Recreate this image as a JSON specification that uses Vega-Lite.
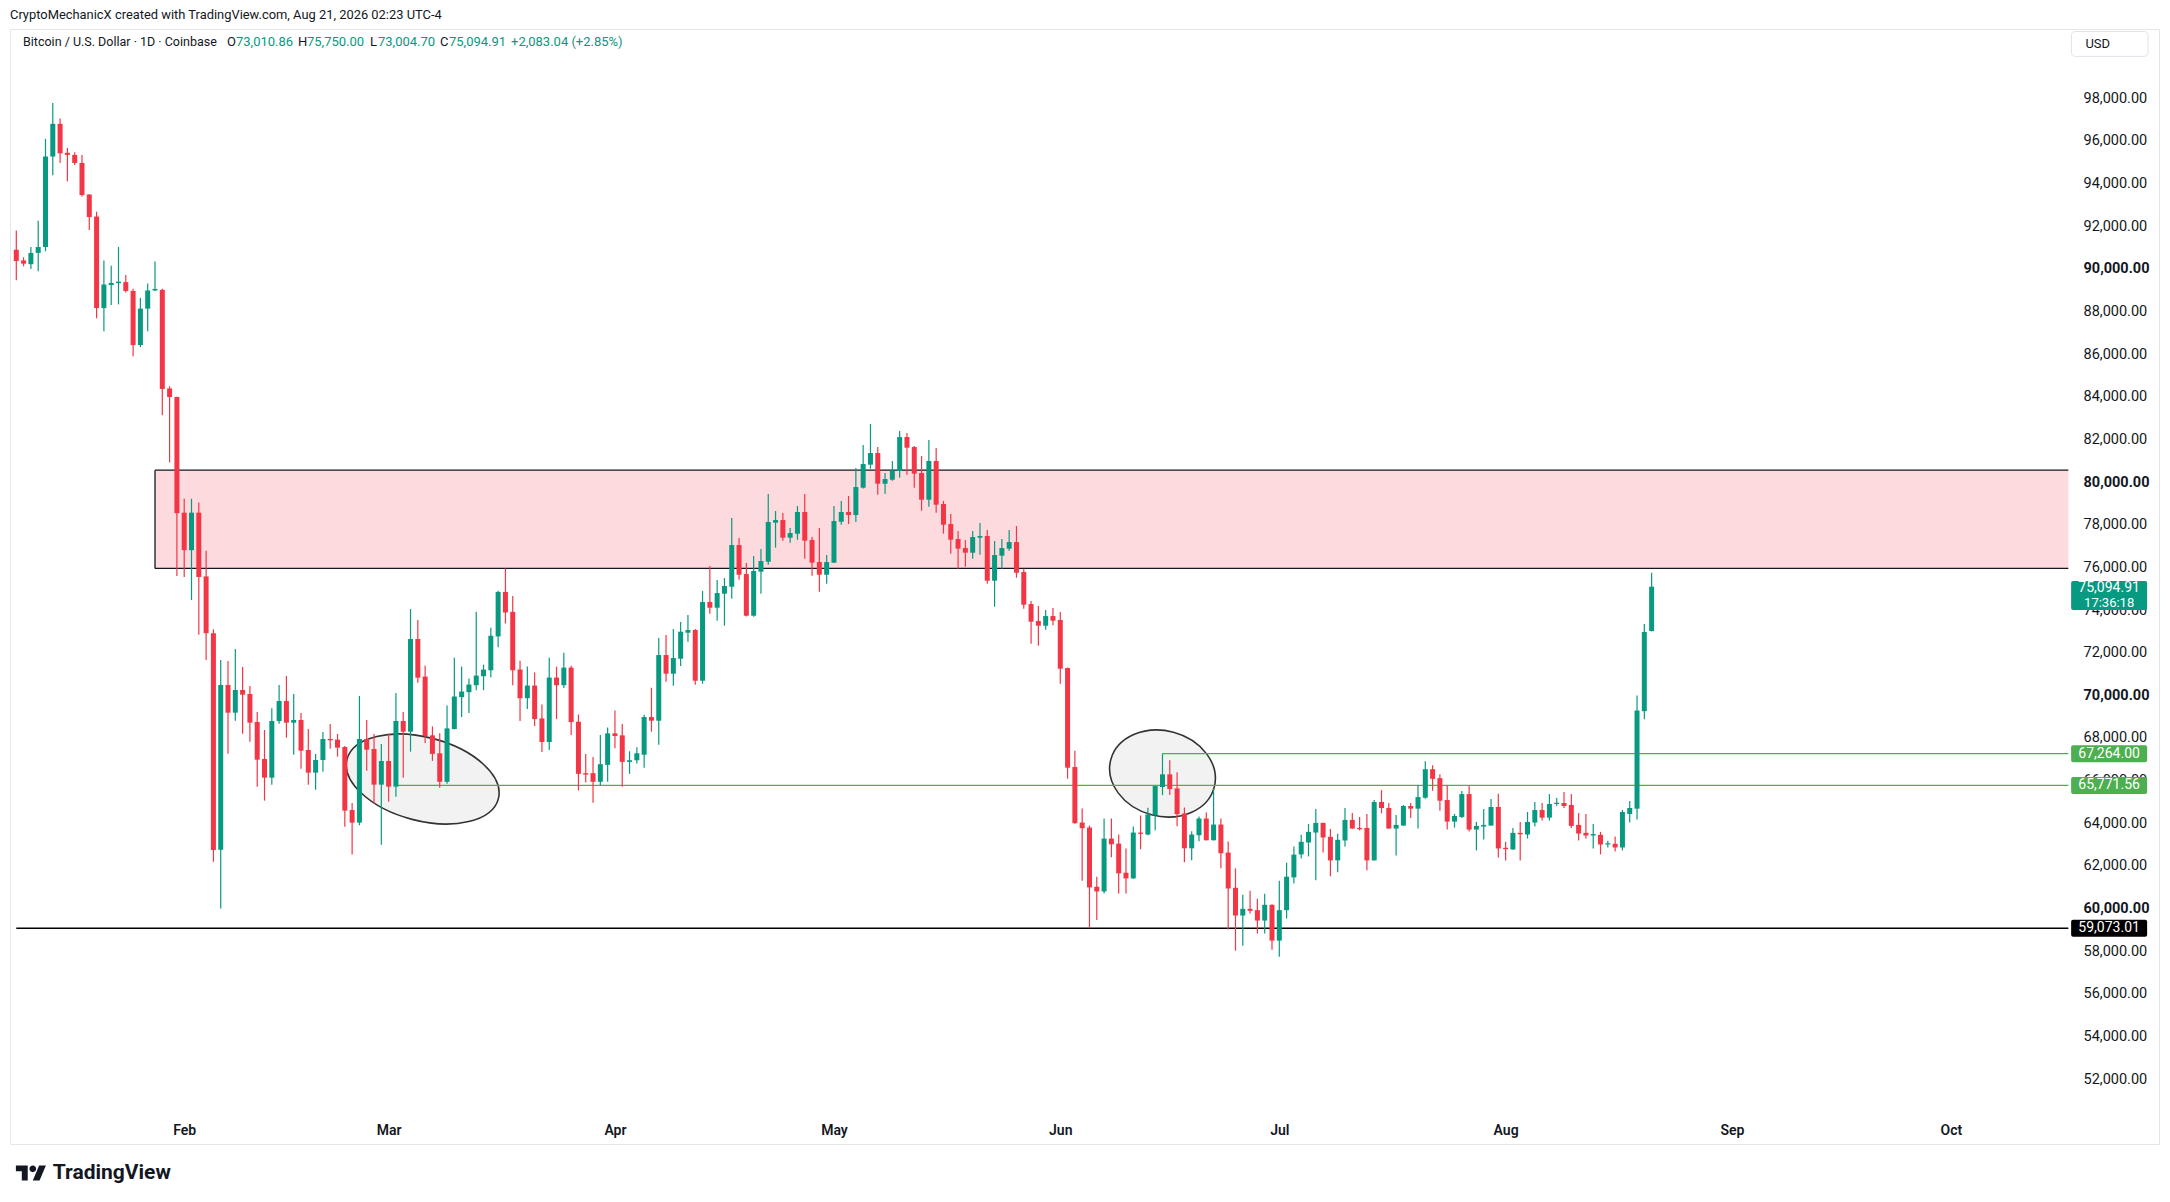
{
  "$schema": "https://vega.github.io/schema/vega-lite/v6.json",
  "width": 2149,
  "height": 1115,
  "autosize": "none",
  "padding": {"left": 10, "top": 29, "right": 11, "bottom": 58},
  "background": "#ffffff",
  "title": {
    "text": "CryptoMechanicX created with TradingView.com, Aug 21, 2026 02:23 UTC-4",
    "anchor": "start", "frame": "group", "offset": 7,
    "fontSize": 12.9, "fontWeight": "normal", "color": "#131722", "font": "Roboto"
  },
  "config": {"font": "Roboto", "view": {"stroke": "#e6e6ea", "strokeWidth": 1}},
  "datasets": {
    "candles": [
      {"date":"2026-01-09","open":90900,"high":91804,"low":89468,"close":90372},
      {"date":"2026-01-10","open":90397,"high":90548,"low":90121,"close":90246},
      {"date":"2026-01-11","open":90221,"high":91025,"low":89995,"close":90749},
      {"date":"2026-01-12","open":90749,"high":92256,"low":89895,"close":91025},
      {"date":"2026-01-13","open":91025,"high":96099,"low":90824,"close":95270},
      {"date":"2026-01-14","open":95270,"high":97782,"low":94391,"close":96803},
      {"date":"2026-01-15","open":96803,"high":97054,"low":94969,"close":95421},
      {"date":"2026-01-16","open":95446,"high":95672,"low":94115,"close":95346},
      {"date":"2026-01-17","open":95346,"high":95471,"low":94869,"close":94969},
      {"date":"2026-01-18","open":94969,"high":95346,"low":93400,"close":93462},
      {"date":"2026-01-19","open":93487,"high":93500,"low":91829,"close":92432},
      {"date":"2026-01-20","open":92457,"high":92683,"low":87684,"close":88162},
      {"date":"2026-01-21","open":88162,"high":90397,"low":87081,"close":89267},
      {"date":"2026-01-22","open":89242,"high":90146,"low":88312,"close":89342},
      {"date":"2026-01-23","open":89330,"high":91025,"low":88337,"close":89400},
      {"date":"2026-01-24","open":89380,"high":89719,"low":88890,"close":88965},
      {"date":"2026-01-25","open":88965,"high":89066,"low":85901,"close":86428},
      {"date":"2026-01-26","open":86428,"high":88639,"low":86328,"close":88137},
      {"date":"2026-01-27","open":88137,"high":89317,"low":87081,"close":88990},
      {"date":"2026-01-28","open":88990,"high":90347,"low":88965,"close":89060},
      {"date":"2026-01-29","open":89016,"high":89066,"low":83137,"close":84368},
      {"date":"2026-01-30","open":84393,"high":84494,"low":80927,"close":83992},
      {"date":"2026-01-31","open":83992,"high":84000,"low":75601,"close":78540},
      {"date":"2026-02-01","open":78566,"high":79219,"low":75551,"close":76807},
      {"date":"2026-02-02","open":76807,"high":79219,"low":74471,"close":78566},
      {"date":"2026-02-03","open":78566,"high":79043,"low":72838,"close":75551},
      {"date":"2026-02-04","open":75576,"high":76782,"low":71658,"close":72914},
      {"date":"2026-02-05","open":72914,"high":73090,"low":62188,"close":62740},
      {"date":"2026-02-06","open":62761,"high":71655,"low":59995,"close":70483},
      {"date":"2026-02-07","open":70483,"high":71608,"low":67263,"close":69185},
      {"date":"2026-02-08","open":69185,"high":72171,"low":68810,"close":70248},
      {"date":"2026-02-09","open":70248,"high":71327,"low":68200,"close":70029},
      {"date":"2026-02-10","open":70060,"high":70436,"low":67825,"close":68716},
      {"date":"2026-02-11","open":68748,"high":69217,"low":65715,"close":66981},
      {"date":"2026-02-12","open":67012,"high":68372,"low":65059,"close":66137},
      {"date":"2026-02-13","open":66137,"high":69388,"low":65809,"close":68794},
      {"date":"2026-02-14","open":68794,"high":70483,"low":68670,"close":69732},
      {"date":"2026-02-15","open":69732,"high":70904,"low":68013,"close":68716},
      {"date":"2026-02-16","open":68716,"high":70060,"low":67216,"close":68841},
      {"date":"2026-02-17","open":68841,"high":69170,"low":66559,"close":67403},
      {"date":"2026-02-18","open":67434,"high":68419,"low":65809,"close":66372},
      {"date":"2026-02-19","open":66372,"high":67247,"low":65575,"close":66966},
      {"date":"2026-02-20","open":66966,"high":68279,"low":66419,"close":67951},
      {"date":"2026-02-21","open":67951,"high":68654,"low":67497,"close":67890},
      {"date":"2026-02-22","open":67919,"high":68185,"low":67122,"close":67544},
      {"date":"2026-02-23","open":67575,"high":67622,"low":63840,"close":64590},
      {"date":"2026-02-24","open":64621,"high":64949,"low":62527,"close":64027},
      {"date":"2026-02-25","open":64027,"high":69967,"low":63902,"close":67951},
      {"date":"2026-02-26","open":67951,"high":68841,"low":66466,"close":67450},
      {"date":"2026-02-27","open":67481,"high":68185,"low":64918,"close":65809},
      {"date":"2026-02-28","open":65809,"high":67716,"low":62995,"close":66919},
      {"date":"2026-03-01","open":66919,"high":68185,"low":65012,"close":65715},
      {"date":"2026-03-02","open":65715,"high":70107,"low":65247,"close":68794},
      {"date":"2026-03-03","open":68794,"high":69217,"low":66137,"close":68294},
      {"date":"2026-03-04","open":68294,"high":74046,"low":67356,"close":72639},
      {"date":"2026-03-05","open":72639,"high":73530,"low":70592,"close":70826},
      {"date":"2026-03-06","open":70878,"high":71391,"low":67764,"close":68091},
      {"date":"2026-03-07","open":68122,"high":68542,"low":66923,"close":67250},
      {"date":"2026-03-08","open":67281,"high":68215,"low":65662,"close":65942},
      {"date":"2026-03-09","open":65942,"high":69523,"low":65848,"close":68449},
      {"date":"2026-03-10","open":68418,"high":71765,"low":68400,"close":69943},
      {"date":"2026-03-11","open":69912,"high":71345,"low":68978,"close":70177},
      {"date":"2026-03-12","open":70146,"high":70784,"low":69165,"close":70504},
      {"date":"2026-03-13","open":70473,"high":73914,"low":70239,"close":70924},
      {"date":"2026-03-14","open":70893,"high":71438,"low":70239,"close":71205},
      {"date":"2026-03-15","open":71173,"high":73166,"low":70847,"close":72793},
      {"date":"2026-03-16","open":72762,"high":74900,"low":72248,"close":74848},
      {"date":"2026-03-17","open":74848,"high":75953,"low":73369,"close":73883},
      {"date":"2026-03-18","open":73914,"high":74661,"low":70473,"close":71173},
      {"date":"2026-03-19","open":71205,"high":71625,"low":68791,"close":69866},
      {"date":"2026-03-20","open":69866,"high":71345,"low":69352,"close":70457},
      {"date":"2026-03-21","open":70457,"high":71064,"low":68558,"close":68884},
      {"date":"2026-03-22","open":68916,"high":69570,"low":67343,"close":67810},
      {"date":"2026-03-23","open":67810,"high":71765,"low":67437,"close":70831},
      {"date":"2026-03-24","open":70831,"high":71345,"low":68884,"close":70473},
      {"date":"2026-03-25","open":70473,"high":71999,"low":70348,"close":71298},
      {"date":"2026-03-26","open":71298,"high":71391,"low":68137,"close":68744},
      {"date":"2026-03-27","open":68760,"high":69102,"low":65537,"close":66316},
      {"date":"2026-03-28","open":66347,"high":67250,"low":65911,"close":66280},
      {"date":"2026-03-29","open":66347,"high":67110,"low":64961,"close":65942},
      {"date":"2026-03-30","open":65942,"high":68137,"low":65771,"close":66767},
      {"date":"2026-03-31","open":66736,"high":68495,"low":65942,"close":68215},
      {"date":"2026-04-01","open":68215,"high":69289,"low":67515,"close":68091},
      {"date":"2026-04-02","open":68122,"high":68651,"low":65708,"close":66876},
      {"date":"2026-04-03","open":66876,"high":67374,"low":66316,"close":66954},
      {"date":"2026-04-04","open":66954,"high":67561,"low":66798,"close":67281},
      {"date":"2026-04-05","open":67213,"high":69089,"low":66604,"close":68980},
      {"date":"2026-04-06","open":68980,"high":70356,"low":68292,"close":68808},
      {"date":"2026-04-07","open":68808,"high":72685,"low":67683,"close":71888},
      {"date":"2026-04-08","open":71888,"high":72826,"low":70637,"close":71013},
      {"date":"2026-04-09","open":71013,"high":73108,"low":70450,"close":71748},
      {"date":"2026-04-10","open":71716,"high":73436,"low":71372,"close":72983},
      {"date":"2026-04-11","open":72936,"high":73764,"low":72514,"close":73061},
      {"date":"2026-04-12","open":73061,"high":73108,"low":70497,"close":70684},
      {"date":"2026-04-13","open":70684,"high":74890,"low":70544,"close":74374},
      {"date":"2026-04-14","open":74374,"high":76063,"low":73827,"close":74108},
      {"date":"2026-04-15","open":74108,"high":75406,"low":73499,"close":74796},
      {"date":"2026-04-16","open":74765,"high":75500,"low":73264,"close":75125},
      {"date":"2026-04-17","open":75093,"high":78314,"low":74531,"close":77048},
      {"date":"2026-04-18","open":77048,"high":77376,"low":75422,"close":75656},
      {"date":"2026-04-19","open":75687,"high":76203,"low":73700,"close":73733},
      {"date":"2026-04-20","open":73733,"high":76532,"low":73686,"close":75828},
      {"date":"2026-04-21","open":75797,"high":76860,"low":74765,"close":76297},
      {"date":"2026-04-22","open":76266,"high":79440,"low":76125,"close":78127},
      {"date":"2026-04-23","open":78095,"high":78643,"low":76923,"close":78220},
      {"date":"2026-04-24","open":78220,"high":78549,"low":77251,"close":77392},
      {"date":"2026-04-25","open":77392,"high":77845,"low":77157,"close":77611},
      {"date":"2026-04-26","open":77579,"high":78877,"low":77298,"close":78596},
      {"date":"2026-04-27","open":78596,"high":79440,"low":76407,"close":77251},
      {"date":"2026-04-28","open":77282,"high":77423,"low":75609,"close":76219},
      {"date":"2026-04-29","open":76250,"high":77845,"low":74859,"close":75656},
      {"date":"2026-04-30","open":75656,"high":76579,"low":75234,"close":76250},
      {"date":"2026-05-01","open":76219,"high":78877,"low":76200,"close":78173},
      {"date":"2026-05-02","open":78142,"high":79112,"low":78001,"close":78596},
      {"date":"2026-05-03","open":78596,"high":79346,"low":78033,"close":78455},
      {"date":"2026-05-04","open":78455,"high":80659,"low":78127,"close":79768},
      {"date":"2026-05-05","open":79737,"high":81738,"low":79700,"close":80847},
      {"date":"2026-05-06","open":80816,"high":82723,"low":80628,"close":81363},
      {"date":"2026-05-07","open":81363,"high":81644,"low":79409,"close":79924},
      {"date":"2026-05-08","open":79924,"high":80425,"low":79456,"close":80143},
      {"date":"2026-05-09","open":80112,"high":80988,"low":80065,"close":80550},
      {"date":"2026-05-10","open":80519,"high":82395,"low":80206,"close":82113},
      {"date":"2026-05-11","open":82113,"high":82301,"low":80347,"close":81613},
      {"date":"2026-05-12","open":81644,"high":81691,"low":79737,"close":80394},
      {"date":"2026-05-13","open":80425,"high":81222,"low":78658,"close":79174},
      {"date":"2026-05-14","open":79174,"high":81973,"low":78846,"close":80988},
      {"date":"2026-05-15","open":80988,"high":81597,"low":78564,"close":78940},
      {"date":"2026-05-16","open":78971,"high":79112,"low":77579,"close":78001},
      {"date":"2026-05-17","open":78033,"high":78502,"low":76641,"close":77298},
      {"date":"2026-05-18","open":77329,"high":77704,"low":75938,"close":76876},
      {"date":"2026-05-19","open":76907,"high":77282,"low":76032,"close":76688},
      {"date":"2026-05-20","open":76688,"high":77704,"low":76407,"close":77423},
      {"date":"2026-05-21","open":77392,"high":78080,"low":76595,"close":77470},
      {"date":"2026-05-22","open":77470,"high":77751,"low":75234,"close":75375},
      {"date":"2026-05-23","open":75375,"high":77235,"low":74155,"close":76579},
      {"date":"2026-05-24","open":76547,"high":77329,"low":75938,"close":76907},
      {"date":"2026-05-25","open":76876,"high":77751,"low":76782,"close":77188},
      {"date":"2026-05-26","open":77188,"high":77939,"low":75515,"close":75750},
      {"date":"2026-05-27","open":75781,"high":75938,"low":74061,"close":74249},
      {"date":"2026-05-28","open":74280,"high":74421,"low":72420,"close":73452},
      {"date":"2026-05-29","open":73483,"high":74187,"low":72326,"close":73264},
      {"date":"2026-05-30","open":73264,"high":74000,"low":73076,"close":73717},
      {"date":"2026-05-31","open":73717,"high":74093,"low":73280,"close":73499},
      {"date":"2026-06-01","open":73530,"high":73905,"low":70544,"close":71247},
      {"date":"2026-06-02","open":71278,"high":71300,"low":66088,"close":66604},
      {"date":"2026-06-03","open":66635,"high":67400,"low":63980,"close":64001},
      {"date":"2026-06-04","open":64032,"high":64691,"low":61302,"close":63765},
      {"date":"2026-06-05","open":63797,"high":63891,"low":59073,"close":60988},
      {"date":"2026-06-06","open":61020,"high":61490,"low":59466,"close":60800},
      {"date":"2026-06-07","open":60800,"high":64221,"low":60706,"close":63279},
      {"date":"2026-06-08","open":63279,"high":64221,"low":62401,"close":63012},
      {"date":"2026-06-09","open":63044,"high":63468,"low":60706,"close":61648},
      {"date":"2026-06-10","open":61679,"high":62809,"low":60706,"close":61412},
      {"date":"2026-06-11","open":61412,"high":63844,"low":61400,"close":63562},
      {"date":"2026-06-12","open":63562,"high":64362,"low":62777,"close":63500},
      {"date":"2026-06-13","open":63468,"high":64723,"low":63437,"close":64409},
      {"date":"2026-06-14","open":64378,"high":65750,"low":63671,"close":65743},
      {"date":"2026-06-15","open":65696,"high":67264,"low":65319,"close":66292},
      {"date":"2026-06-16","open":66292,"high":66951,"low":65319,"close":65602},
      {"date":"2026-06-17","open":65633,"high":66386,"low":63860,"close":64425},
      {"date":"2026-06-18","open":64456,"high":64738,"low":62165,"close":62824},
      {"date":"2026-06-19","open":62824,"high":63625,"low":62259,"close":63468},
      {"date":"2026-06-20","open":63437,"high":64315,"low":63154,"close":64221},
      {"date":"2026-06-21","open":64221,"high":64503,"low":63190,"close":63201},
      {"date":"2026-06-22","open":63201,"high":65617,"low":63190,"close":63938},
      {"date":"2026-06-23","open":63938,"high":64221,"low":61883,"close":62589},
      {"date":"2026-06-24","open":62620,"high":63138,"low":59010,"close":60939},
      {"date":"2026-06-25","open":60971,"high":61883,"low":58023,"close":59671},
      {"date":"2026-06-26","open":59671,"high":60643,"low":58258,"close":59984},
      {"date":"2026-06-27","open":59984,"high":60832,"low":59765,"close":59890},
      {"date":"2026-06-28","open":59922,"high":60455,"low":58823,"close":59435},
      {"date":"2026-06-29","open":59435,"high":60691,"low":58823,"close":60173},
      {"date":"2026-06-30","open":60173,"high":60200,"low":58070,"close":58494},
      {"date":"2026-07-01","open":58494,"high":61302,"low":57741,"close":59922},
      {"date":"2026-07-02","open":59922,"high":62150,"low":59529,"close":61490},
      {"date":"2026-07-03","open":61459,"high":62903,"low":61177,"close":62526},
      {"date":"2026-07-04","open":62537,"high":63454,"low":62350,"close":63128},
      {"date":"2026-07-05","open":63097,"high":63967,"low":62444,"close":63594},
      {"date":"2026-07-06","open":63563,"high":64667,"low":61324,"close":64014},
      {"date":"2026-07-07","open":64014,"high":64020,"low":62630,"close":63330},
      {"date":"2026-07-08","open":63361,"high":63734,"low":61511,"close":62257},
      {"date":"2026-07-09","open":62257,"high":63501,"low":61697,"close":63221},
      {"date":"2026-07-10","open":63190,"high":64714,"low":62910,"close":64154},
      {"date":"2026-07-11","open":64154,"high":64481,"low":63740,"close":63750},
      {"date":"2026-07-12","open":63781,"high":64294,"low":63656,"close":63720},
      {"date":"2026-07-13","open":63781,"high":64434,"low":61790,"close":62257},
      {"date":"2026-07-14","open":62257,"high":65087,"low":62250,"close":64994},
      {"date":"2026-07-15","open":64994,"high":65554,"low":64465,"close":64714},
      {"date":"2026-07-16","open":64714,"high":64947,"low":63740,"close":63750},
      {"date":"2026-07-17","open":63750,"high":64387,"low":62490,"close":63921},
      {"date":"2026-07-18","open":63890,"high":64854,"low":63880,"close":64807},
      {"date":"2026-07-19","open":64807,"high":64947,"low":64247,"close":64683},
      {"date":"2026-07-20","open":64683,"high":65787,"low":63750,"close":65227},
      {"date":"2026-07-21","open":65196,"high":66906,"low":65149,"close":66533},
      {"date":"2026-07-22","open":66533,"high":66720,"low":65522,"close":66082},
      {"date":"2026-07-23","open":66113,"high":66300,"low":64590,"close":65056},
      {"date":"2026-07-24","open":65087,"high":65787,"low":63703,"close":64076},
      {"date":"2026-07-25","open":64076,"high":64434,"low":63796,"close":64341},
      {"date":"2026-07-26","open":64294,"high":65507,"low":64250,"close":65367},
      {"date":"2026-07-27","open":65367,"high":65740,"low":63610,"close":63703},
      {"date":"2026-07-28","open":63703,"high":64061,"low":62723,"close":63874},
      {"date":"2026-07-29","open":63843,"high":64667,"low":63237,"close":63921},
      {"date":"2026-07-30","open":63890,"high":65134,"low":63880,"close":64760},
      {"date":"2026-07-31","open":64760,"high":65383,"low":62397,"close":62817},
      {"date":"2026-08-01","open":62848,"high":63128,"low":62257,"close":62786},
      {"date":"2026-08-02","open":62770,"high":63781,"low":62760,"close":63548},
      {"date":"2026-08-03","open":63548,"high":64060,"low":62257,"close":63480},
      {"date":"2026-08-04","open":63470,"high":64527,"low":63283,"close":64060},
      {"date":"2026-08-05","open":64030,"high":64994,"low":63843,"close":64621},
      {"date":"2026-08-06","open":64621,"high":64947,"low":64123,"close":64263},
      {"date":"2026-08-07","open":64263,"high":65367,"low":64123,"close":64900},
      {"date":"2026-08-08","open":64900,"high":65180,"low":64807,"close":64960},
      {"date":"2026-08-09","open":64947,"high":65460,"low":64714,"close":64807},
      {"date":"2026-08-10","open":64854,"high":65367,"low":63781,"close":63874},
      {"date":"2026-08-11","open":63921,"high":64481,"low":63190,"close":63517},
      {"date":"2026-08-12","open":63548,"high":64434,"low":63283,"close":63423},
      {"date":"2026-08-13","open":63423,"high":63967,"low":62817,"close":63490},
      {"date":"2026-08-14","open":63454,"high":63594,"low":62537,"close":63003},
      {"date":"2026-08-15","open":63003,"high":63174,"low":62863,"close":63060},
      {"date":"2026-08-16","open":63034,"high":63376,"low":62676,"close":62863},
      {"date":"2026-08-17","open":62863,"high":64621,"low":62723,"close":64527},
      {"date":"2026-08-18","open":64434,"high":65041,"low":64030,"close":64714},
      {"date":"2026-08-19","open":64683,"high":69985,"low":64169,"close":69286},
      {"date":"2026-08-20","open":69255,"high":73344,"low":68881,"close":72971},
      {"date":"2026-08-21","open":73010.86,"high":75750,"low":73004.70,"close":75094.91}
    ],
    "zone": [{"start": "2026-01-28", "lo": 75950, "hi": 80560}],
    "levels": [
      {"start": "2026-06-15", "price": 67264, "label": "67,264.00", "kind": "resistance"},
      {"start": "2026-03-02", "price": 65771.56, "label": "65,771.56", "kind": "resistance"},
      {"start": "2026-01-09", "price": 59073.01, "label": "59,073.01", "kind": "support"}
    ],
    "ellipses": [
      {"date": "2026-03-05T16:00:00Z", "price": 66074, "name": "march"},
      {"date": "2026-06-15T00:00:00Z", "price": 66332, "name": "june"}
    ]
  },
  "layer": [
    {
      "data": {"name": "zone"},
      "mark": {"type": "rect", "fill": "#fcdadd"},
      "encoding": {
        "x": {"field": "start", "type": "temporal"},
        "x2": {"datum": {"year": 2026, "month": 10, "date": 17, "hours": 2, "utc": true}},
        "y": {"field": "lo", "type": "quantitative"},
        "y2": {"field": "hi"}
      }
    },
    {
      "data": {"name": "zone"},
      "mark": {"type": "rule", "color": "#131722", "strokeWidth": 1.3},
      "encoding": {
        "x": {"field": "start", "type": "temporal"},
        "x2": {"datum": {"year": 2026, "month": 10, "date": 17, "hours": 2, "utc": true}},
        "y": {"field": "hi", "type": "quantitative"}
      }
    },
    {
      "data": {"name": "zone"},
      "mark": {"type": "rule", "color": "#131722", "strokeWidth": 1.3},
      "encoding": {
        "x": {"field": "start", "type": "temporal"},
        "x2": {"datum": {"year": 2026, "month": 10, "date": 17, "hours": 2, "utc": true}},
        "y": {"field": "lo", "type": "quantitative"}
      }
    },
    {
      "data": {"name": "zone"},
      "mark": {"type": "rule", "color": "#131722", "strokeWidth": 1.3},
      "encoding": {
        "x": {"field": "start", "type": "temporal"},
        "y": {"field": "lo", "type": "quantitative"},
        "y2": {"field": "hi"}
      }
    },
    {
      "data": {"name": "ellipses"},
      "transform": [{"filter": "datum.name === 'march'"}],
      "mark": {
        "type": "point", "filled": true, "fill": "#f2f2f2", "stroke": "#333333",
        "strokeWidth": 1.6, "opacity": 1, "size": 24460, "angle": 14.7,
        "shape": "M -1 0 C -1 -0.2949 -0.5523 -0.534 0 -0.534 C 0.5523 -0.534 1 -0.2949 1 0 C 1 0.2949 0.5523 0.534 0 0.534 C -0.5523 0.534 -1 0.2949 -1 0 Z"
      },
      "encoding": {
        "x": {"field": "date", "type": "temporal"},
        "y": {"field": "price", "type": "quantitative"}
      }
    },
    {
      "data": {"name": "ellipses"},
      "transform": [{"filter": "datum.name === 'june'"}],
      "mark": {
        "type": "point", "filled": true, "fill": "#f2f2f2", "stroke": "#333333",
        "strokeWidth": 1.6, "opacity": 1, "size": 11449, "angle": 15,
        "shape": "M -1 0 C -1 -0.4407 -0.5523 -0.798 0 -0.798 C 0.5523 -0.798 1 -0.4407 1 0 C 1 0.4407 0.5523 0.798 0 0.798 C -0.5523 0.798 -1 0.4407 -1 0 Z"
      },
      "encoding": {
        "x": {"field": "date", "type": "temporal"},
        "y": {"field": "price", "type": "quantitative"}
      }
    },
    {
      "data": {"name": "levels"},
      "mark": {"type": "rule", "strokeWidth": 1.3},
      "encoding": {
        "x": {"field": "start", "type": "temporal"},
        "x2": {"datum": {"year": 2026, "month": 10, "date": 17, "hours": 2, "utc": true}},
        "y": {"field": "price", "type": "quantitative"},
        "color": {
          "field": "kind", "type": "nominal", "legend": null,
          "scale": {"domain": ["resistance", "support"], "range": ["#4caf50", "#000000"]}
        }
      }
    },
    {
      "data": {"name": "candles"},
      "mark": {"type": "rule", "strokeWidth": 1.2},
      "encoding": {
        "x": {
          "field": "date", "type": "temporal",
          "scale": {
            "type": "utc",
            "domain": [
              {"year": 2026, "month": 1, "date": 8, "hours": 19, "minutes": 45, "utc": true},
              {"year": 2026, "month": 10, "date": 28, "hours": 19, "minutes": 30, "utc": true}
            ]
          },
          "axis": {
            "orient": "bottom", "offset": -14, "title": null, "grid": false,
            "domain": false, "ticks": false, "tickSize": 0, "labelPadding": 0,
            "labelBaseline": "middle",
            "labelExpr": "utcFormat(datum.value, '%b')",
            "tickCount": {"interval": "month", "step": 1},
            "labelFontSize": 14, "labelFontWeight": 600, "labelColor": "#131722",
            "labelFlush": false, "labelOverlap": false
          }
        },
        "y": {
          "field": "low", "type": "quantitative",
          "scale": {"domain": [48954, 101252], "nice": false, "zero": false},
          "axis": {
            "orient": "right", "offset": -76, "title": null, "grid": false,
            "domain": false, "ticks": false, "tickSize": 0, "labelPadding": 0,
            "labelAlign": "left", "labelBaseline": "middle",
            "values": [52000, 54000, 56000, 58000, 60000, 62000, 64000, 66000, 68000, 70000, 72000, 74000, 76000, 78000, 80000, 82000, 84000, 86000, 88000, 90000, 92000, 94000, 96000, 98000],
            "format": ",.2f", "labelFontSize": 14.5, "labelColor": "#131722",
            "labelFontWeight": {"condition": {"test": "datum.value % 10000 === 0", "value": "bold"}, "value": "normal"},
            "labelOverlap": false, "labelFlush": false
          }
        },
        "y2": {"field": "high"},
        "color": {"condition": {"test": "datum.open <= datum.close", "value": "#089981"}, "value": "#f23645"}
      }
    },
    {
      "data": {"name": "candles"},
      "mark": {"type": "bar", "width": 5},
      "encoding": {
        "x": {"field": "date", "type": "temporal"},
        "y": {"field": "open", "type": "quantitative"},
        "y2": {"field": "close"},
        "color": {"condition": {"test": "datum.open <= datum.close", "value": "#089981"}, "value": "#f23645"}
      }
    },
    {
      "data": {"name": "levels"},
      "mark": {"type": "tick", "orient": "horizontal", "size": 76, "thickness": 17, "cornerRadius": 2, "opacity": 1},
      "encoding": {
        "x": {"datum": {"year": 2026, "month": 10, "date": 22, "hours": 16, "utc": true}, "type": "temporal"},
        "y": {"field": "price", "type": "quantitative"},
        "color": {"field": "kind", "type": "nominal", "legend": null}
      }
    },
    {
      "data": {"name": "levels"},
      "mark": {"type": "text", "color": "#ffffff", "fontSize": 14, "align": "center", "baseline": "middle"},
      "encoding": {
        "x": {"datum": {"year": 2026, "month": 10, "date": 22, "hours": 16, "utc": true}, "type": "temporal"},
        "y": {"field": "price", "type": "quantitative"},
        "text": {"field": "label"}
      }
    },
    {
      "data": {"name": "candles"},
      "transform": [{"filter": "utcmonth(datum.date) === 7 && utcdate(datum.date) === 21"}],
      "mark": {"type": "tick", "orient": "horizontal", "size": 76, "thickness": 29, "cornerRadius": 2, "opacity": 1, "color": "#089981"},
      "encoding": {
        "x": {"datum": {"year": 2026, "month": 10, "date": 22, "hours": 16, "utc": true}, "type": "temporal"},
        "y": {"datum": 74681, "type": "quantitative"}
      }
    },
    {
      "data": {"name": "candles"},
      "transform": [{"filter": "utcmonth(datum.date) === 7 && utcdate(datum.date) === 21"}],
      "mark": {"type": "text", "color": "#ffffff", "fontSize": 14, "align": "center", "baseline": "middle", "dy": 1},
      "encoding": {
        "x": {"datum": {"year": 2026, "month": 10, "date": 22, "hours": 16, "utc": true}, "type": "temporal"},
        "y": {"field": "close", "type": "quantitative"},
        "text": {"field": "close", "format": ",.2f"}
      }
    },
    {
      "data": {"name": "candles"},
      "transform": [{"filter": "utcmonth(datum.date) === 7 && utcdate(datum.date) === 21"}],
      "mark": {"type": "text", "color": "#ffffff", "fontSize": 13, "align": "center", "baseline": "middle", "dy": 16, "text": "17:36:18"},
      "encoding": {
        "x": {"datum": {"year": 2026, "month": 10, "date": 22, "hours": 16, "utc": true}, "type": "temporal"},
        "y": {"field": "close", "type": "quantitative"}
      }
    },
    {
      "data": {"values": [{}]},
      "encoding": {
        "x": {"datum": {"year": 2026, "month": 1, "date": 8, "hours": 19, "minutes": 45, "utc": true}, "type": "temporal"},
        "y": {"datum": 100619, "type": "quantitative"}
      },
      "layer": [
        {"mark": {"type": "text", "text": "Bitcoin / U.S. Dollar · 1D · Coinbase", "dx": 8, "align": "left", "baseline": "middle", "fontSize": 12.5, "color": "#131722"}},
        {"mark": {"type": "text", "text": "O", "dx": 212, "align": "left", "baseline": "middle", "fontSize": 13, "color": "#131722"}},
        {"mark": {"type": "text", "text": "73,010.86", "dx": 221, "align": "left", "baseline": "middle", "fontSize": 13, "color": "#089981"}},
        {"mark": {"type": "text", "text": "H", "dx": 283, "align": "left", "baseline": "middle", "fontSize": 13, "color": "#131722"}},
        {"mark": {"type": "text", "text": "75,750.00", "dx": 292, "align": "left", "baseline": "middle", "fontSize": 13, "color": "#089981"}},
        {"mark": {"type": "text", "text": "L", "dx": 355, "align": "left", "baseline": "middle", "fontSize": 13, "color": "#131722"}},
        {"mark": {"type": "text", "text": "73,004.70", "dx": 363, "align": "left", "baseline": "middle", "fontSize": 13, "color": "#089981"}},
        {"mark": {"type": "text", "text": "C", "dx": 425, "align": "left", "baseline": "middle", "fontSize": 13, "color": "#131722"}},
        {"mark": {"type": "text", "text": "75,094.91", "dx": 434, "align": "left", "baseline": "middle", "fontSize": 13, "color": "#089981"}},
        {"mark": {"type": "text", "text": "+2,083.04 (+2.85%)", "dx": 496, "align": "left", "baseline": "middle", "fontSize": 13, "color": "#089981"}}
      ]
    },
    {
      "data": {"values": [{}]},
      "mark": {"type": "rect", "fill": "#ffffff", "stroke": "#e0e3eb", "strokeWidth": 1, "cornerRadius": 4},
      "encoding": {
        "x": {"datum": {"year": 2026, "month": 10, "date": 17, "hours": 12, "utc": true}, "type": "temporal"},
        "x2": {"datum": {"year": 2026, "month": 10, "date": 28, "hours": 0, "utc": true}},
        "y": {"datum": 101135, "type": "quantitative"},
        "y2": {"datum": 99967}
      }
    },
    {
      "data": {"values": [{}]},
      "mark": {"type": "text", "text": "USD", "align": "left", "baseline": "middle", "fontSize": 13, "color": "#131722"},
      "encoding": {
        "x": {"datum": {"year": 2026, "month": 10, "date": 19, "hours": 10, "utc": true}, "type": "temporal"},
        "y": {"datum": 100551, "type": "quantitative"}
      }
    },
    {
      "data": {"values": [{}]},
      "mark": {
        "type": "point", "filled": true, "fill": "#131722", "strokeWidth": 0, "opacity": 1, "size": 900,
        "shape": "M -0.211 0.507 H -0.606 V -0.113 H -1 V -0.507 H -0.211 Z M 0.577 0.507 H 0.127 L 0.549 -0.507 H 1 Z M -0.098 -0.282 C -0.098 -0.406 0.003 -0.507 0.127 -0.507 C 0.251 -0.507 0.352 -0.406 0.352 -0.282 C 0.352 -0.158 0.251 -0.057 0.127 -0.057 C 0.003 -0.057 -0.098 -0.158 -0.098 -0.282 Z"
      },
      "encoding": {
        "x": {"datum": {"year": 2026, "month": 1, "date": 11, "utc": true}, "type": "temporal"},
        "y": {"datum": 47594, "type": "quantitative"}
      }
    },
    {
      "data": {"values": [{}]},
      "mark": {"type": "text", "text": "TradingView", "align": "left", "baseline": "middle", "fontSize": 21, "fontWeight": "bold", "color": "#131722"},
      "encoding": {
        "x": {"datum": {"year": 2026, "month": 1, "date": 14, "utc": true}, "type": "temporal"},
        "y": {"datum": 47594, "type": "quantitative"}
      }
    }
  ]
}
